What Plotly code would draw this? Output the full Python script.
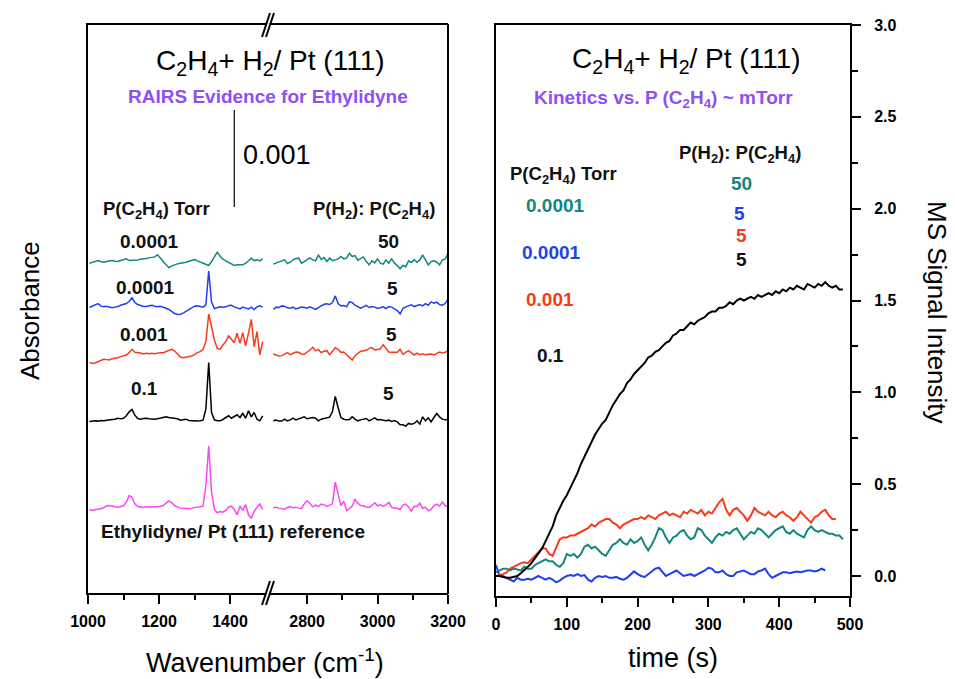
import plotly.graph_objects as go

# ---------------- DATA ----------------
# Left panel: RAIRS spectra (absorbance in units of 1e-3, relative to each trace baseline)
wn_left = list(range(1004, 1493, 8))     # 62 points, 1004..1492 cm-1
wn_right = list(range(2704, 3201, 8))    # 63 points, 2704..3200 cm-1

teal_left = [0.000, 0.007, 0.014, 0.027, 0.017, 0.010, 0.017, 0.020, 0.027, 0.020,
             0.017, 0.027, 0.034, 0.045, 0.027, 0.027, 0.031, 0.034, 0.041, 0.041,
             0.048, 0.055, 0.062, 0.065, 0.086, 0.045, 0.017, -0.017, -0.048, -0.027,
             -0.014, -0.007, 0.000, 0.003, 0.010, 0.020, 0.027, 0.038, 0.024, 0.010,
             0.000, -0.010, -0.024, 0.017, 0.069, 0.113, 0.072, 0.041, 0.024, 0.007,
             -0.010, -0.024, -0.017, -0.017, -0.017, 0.000, 0.024, 0.052, 0.027, 0.034,
             0.024, 0.045]
blue_left = [-0.007, 0.007, 0.017, 0.034, 0.007, 0.000, 0.007, -0.003, -0.010, -0.003,
             0.003, 0.017, 0.024, 0.034, 0.058, 0.093, 0.045, 0.024, 0.014, 0.003,
             0.003, 0.014, 0.017, 0.007, 0.000, 0.007, 0.000, -0.014, -0.027, -0.052,
             -0.069, -0.079, -0.076, -0.065, -0.045, -0.031, -0.010, 0.007, 0.010, 0.003,
             -0.003, 0.020, 0.368, 0.050, -0.017, -0.010, 0.000, -0.003, 0.000, 0.014,
             0.017, 0.000, -0.010, -0.021, -0.003, -0.010, -0.021, -0.003, -0.027, 0.000,
             0.010, -0.003]
red_left = [-0.065, -0.072, -0.069, -0.058, -0.045, -0.031, -0.034, -0.038, -0.024, -0.021,
            -0.014, -0.003, 0.003, 0.014, 0.038, 0.072, 0.041, 0.038, 0.034, 0.024,
            0.031, 0.027, 0.031, 0.027, 0.034, 0.038, 0.038, 0.052, 0.062, 0.072,
            0.055, 0.021, -0.007, -0.014, -0.010, -0.003, 0.003, 0.017, 0.038, 0.048,
            0.072, 0.151, 0.436, 0.306, 0.168, 0.082, 0.072, 0.117, 0.151, 0.210,
            0.175, 0.141, 0.237, 0.134, 0.244, 0.107, 0.237, 0.381, 0.100, 0.254,
            0.014, 0.151]
black_left = [-0.007, -0.003, 0.000, -0.003, 0.003, 0.000, 0.007, 0.010, 0.014, 0.017,
              0.027, 0.021, 0.027, 0.052, 0.093, 0.117, 0.058, 0.024, 0.017, 0.024,
              0.027, 0.021, 0.017, 0.017, 0.021, 0.027, 0.034, 0.041, 0.034, 0.031,
              0.027, 0.021, 0.007, 0.014, 0.017, 0.003, 0.000, 0.003, -0.003, 0.000,
              0.007, 0.120, 0.600, 0.086, 0.010, 0.000, 0.000, 0.014, 0.034, 0.052,
              0.027, 0.041, 0.062, 0.034, 0.076, 0.027, 0.103, 0.041, 0.086, 0.017,
              0.000, 0.052]
magenta_left = [-0.024, -0.034, -0.027, -0.024, -0.017, -0.007, 0.014, 0.017, 0.010, 0.000,
                0.000, 0.007, 0.014, 0.052, 0.120, 0.103, 0.034, 0.007, 0.003, -0.003,
                0.003, 0.003, 0.000, 0.003, 0.003, 0.010, 0.017, 0.041, 0.065, 0.045,
                0.017, 0.003, -0.010, -0.014, -0.017, -0.014, -0.010, -0.007, -0.003, 0.000,
                0.010, 0.223, 0.629, 0.155, -0.024, -0.058, -0.045, -0.052, -0.034, 0.000,
                0.010, -0.024, -0.079, 0.010, -0.034, 0.027, -0.079, -0.113, -0.045, 0.000,
                0.034, -0.024]

teal_right = [-0.010, 0.000, 0.014, 0.020, 0.034, -0.003, 0.010, 0.034, 0.048, 0.052,
              0.000, 0.017, 0.038, 0.055, 0.034, 0.024, 0.086, 0.038, 0.058, 0.017,
              0.052, 0.027, 0.034, 0.045, 0.069, 0.045, 0.052, 0.103, 0.069, 0.079,
              0.031, 0.052, 0.065, 0.017, -0.017, 0.024, 0.003, 0.045, 0.000, -0.010,
              0.034, 0.000, 0.045, 0.000, -0.024, -0.058, -0.024, -0.038, 0.024, 0.007,
              0.038, 0.010, 0.034, 0.086, 0.034, -0.017, 0.017, 0.024, 0.010, -0.017,
              0.034, 0.041, 0.103]
blue_right = [-0.027, -0.003, -0.007, 0.010, 0.007, -0.010, -0.014, -0.003, -0.021, -0.014,
              -0.003, -0.007, -0.014, 0.000, -0.010, -0.027, -0.007, 0.010, 0.027, 0.031,
              0.024, 0.045, 0.113, 0.034, 0.010, 0.014, 0.000, 0.052, 0.045, 0.017,
              -0.003, -0.014, 0.000, 0.014, -0.007, 0.003, -0.003, -0.017, -0.010, 0.000,
              -0.017, 0.003, -0.003, -0.017, -0.038, -0.072, -0.017, 0.000, 0.014, 0.021,
              0.003, 0.017, 0.024, 0.010, 0.034, 0.017, 0.052, 0.038, 0.048, 0.024,
              0.017, 0.034, 0.079]
red_right = [0.024, 0.017, 0.003, 0.007, 0.027, 0.038, 0.017, 0.031, 0.045, 0.041,
             0.024, 0.021, 0.041, 0.065, 0.093, 0.058, 0.069, 0.038, 0.052, 0.058,
             0.017, 0.052, 0.089, 0.072, 0.041, 0.045, 0.017, -0.014, -0.038, 0.007,
             0.027, 0.052, 0.058, 0.062, 0.082, 0.089, 0.065, 0.069, 0.076, 0.120,
             0.076, 0.045, 0.041, 0.038, 0.041, 0.072, 0.021, 0.041, 0.058, 0.038,
             0.014, 0.034, 0.017, 0.027, 0.017, 0.021, 0.024, 0.014, 0.027, 0.045,
             0.034, 0.041, 0.058]
black_right = [0.000, 0.007, -0.003, -0.003, 0.017, 0.000, 0.010, 0.027, 0.010, 0.021,
               0.027, 0.041, 0.021, 0.024, 0.034, 0.027, 0.000, 0.017, 0.024, 0.038,
               0.038, 0.096, 0.251, 0.137, 0.034, 0.017, 0.010, 0.014, 0.041, 0.017,
               0.000, 0.010, 0.021, 0.024, 0.000, 0.017, 0.031, 0.010, 0.014, 0.007,
               0.000, 0.007, -0.007, 0.003, -0.010, -0.041, -0.041, -0.055, -0.027, -0.034,
               -0.027, 0.000, -0.034, 0.041, 0.000, 0.031, -0.010, 0.034, 0.076, 0.041,
               0.017, 0.010, 0.014]
magenta_right = [-0.007, 0.000, -0.010, -0.017, -0.021, -0.003, 0.007, -0.007, 0.000, -0.010,
                 -0.014, 0.034, 0.065, 0.041, 0.003, 0.021, 0.007, 0.031, 0.024, 0.007,
                 0.017, 0.034, 0.258, 0.120, 0.017, 0.062, -0.034, -0.014, 0.010, 0.079,
                 0.041, 0.017, 0.014, 0.000, -0.003, 0.017, 0.045, 0.014, 0.024, 0.010,
                 0.024, 0.048, 0.000, -0.010, -0.010, -0.024, 0.021, 0.031, 0.003, -0.041,
                 0.010, 0.007, 0.041, -0.014, 0.000, -0.038, -0.024, 0.017, 0.031, 0.010,
                 0.052, 0.014, 0.010]

spec_names = ["teal", "blue", "red", "black", "magenta"]
spec_offsets = [3.40, 2.95, 2.44, 1.775, 0.885]      # stacking offsets (1e-3 abs)
scale_bar = [3.98, 4.98]                              # 0.001 absorbance bar

# Right panel: MS kinetics
t_black = list(range(0, 491, 5))
ms_black = [0.00, 0.00, -0.005, -0.01, -0.01, -0.005, 0.00, 0.015, 0.03, 0.05,
            0.07, 0.095, 0.12, 0.15, 0.19, 0.23, 0.27, 0.33, 0.37, 0.41,
            0.44, 0.48, 0.52, 0.56, 0.61, 0.65, 0.69, 0.73, 0.77, 0.80,
            0.83, 0.85, 0.89, 0.93, 0.96, 0.99, 1.01, 1.05, 1.07, 1.10,
            1.12, 1.14, 1.16, 1.19, 1.20, 1.22, 1.23, 1.25, 1.27, 1.28,
            1.31, 1.32, 1.34, 1.34, 1.36, 1.38, 1.37, 1.39, 1.40, 1.41,
            1.43, 1.44, 1.44, 1.46, 1.46, 1.47, 1.49, 1.48, 1.50, 1.51,
            1.50, 1.51, 1.52, 1.51, 1.53, 1.52, 1.53, 1.54, 1.53, 1.55,
            1.54, 1.56, 1.55, 1.57, 1.56, 1.58, 1.57, 1.56, 1.59, 1.58,
            1.57, 1.59, 1.58, 1.60, 1.58, 1.57, 1.58, 1.56, 1.56]
t_red = list(range(0, 481, 5))
ms_red = [0.00, 0.005, 0.01, 0.02, 0.04, 0.05, 0.06, 0.07, 0.075, 0.07,
          0.09, 0.11, 0.13, 0.15, 0.15, 0.12, 0.11, 0.16, 0.20, 0.21,
          0.21, 0.22, 0.22, 0.23, 0.24, 0.25, 0.26, 0.28, 0.27, 0.29,
          0.30, 0.31, 0.31, 0.29, 0.28, 0.26, 0.28, 0.29, 0.30, 0.31,
          0.31, 0.32, 0.31, 0.33, 0.32, 0.31, 0.33, 0.34, 0.35, 0.33,
          0.34, 0.33, 0.32, 0.35, 0.34, 0.36, 0.35, 0.34, 0.36, 0.33,
          0.35, 0.34, 0.37, 0.40, 0.42, 0.36, 0.33, 0.36, 0.37, 0.35,
          0.33, 0.30, 0.33, 0.37, 0.35, 0.34, 0.33, 0.35, 0.33, 0.32,
          0.34, 0.35, 0.33, 0.32, 0.30, 0.32, 0.35, 0.33, 0.31, 0.29,
          0.32, 0.33, 0.35, 0.36, 0.33, 0.31, 0.31]
t_teal = list(range(0, 491, 5))
ms_teal = [0.02, 0.03, 0.04, 0.04, 0.03, 0.04, 0.035, 0.03, 0.05, 0.04,
           0.04, 0.06, 0.07, 0.08, 0.09, 0.08, 0.08, 0.06, 0.05, 0.07,
           0.12, 0.11, 0.12, 0.10, 0.12, 0.16, 0.17, 0.15, 0.16, 0.14,
           0.12, 0.11, 0.14, 0.17, 0.18, 0.20, 0.18, 0.17, 0.20, 0.18,
           0.19, 0.21, 0.17, 0.14, 0.17, 0.21, 0.26, 0.25, 0.21, 0.18,
           0.21, 0.22, 0.24, 0.25, 0.22, 0.20, 0.21, 0.26, 0.25, 0.22,
           0.20, 0.18, 0.21, 0.23, 0.22, 0.24, 0.23, 0.25, 0.26, 0.23,
           0.20, 0.22, 0.24, 0.23, 0.26, 0.25, 0.23, 0.21, 0.23, 0.25,
           0.26, 0.27, 0.24, 0.23, 0.25, 0.23, 0.22, 0.21, 0.25, 0.27,
           0.25, 0.24, 0.25, 0.24, 0.23, 0.23, 0.22, 0.22, 0.20]
t_blue = list(range(0, 466, 5))
ms_blue = [0.06, 0.00, 0.00, -0.01, -0.02, -0.03, -0.01, -0.02, -0.02, -0.015,
           -0.02, -0.01, 0.00, -0.01, -0.02, -0.01, -0.02, -0.035, -0.025, -0.01,
           0.00, 0.005, 0.00, 0.01, 0.00, 0.005, -0.02, -0.03, -0.01, 0.00,
           -0.005, 0.00, -0.01, -0.01, -0.005, -0.015, -0.02, -0.01, 0.01, 0.025,
           0.01, 0.00, -0.005, 0.01, 0.02, 0.04, 0.045, 0.02, 0.00, 0.01,
           0.02, 0.03, 0.015, 0.00, 0.005, 0.01, 0.00, 0.01, 0.02, 0.03,
           0.045, 0.04, 0.02, 0.02, 0.03, 0.01, 0.00, 0.00, 0.02, 0.025,
           0.03, 0.02, 0.01, 0.01, 0.025, 0.03, 0.04, 0.01, -0.01, 0.00,
           0.01, 0.02, 0.02, 0.015, 0.02, 0.025, 0.02, 0.025, 0.03, 0.03,
           0.025, 0.03, 0.04, 0.03]

left_x_ticks_a = [1000, 1200, 1400]
left_x_ticks_b = [2800, 3000, 3200]
right_x_ticks = [0, 100, 200, 300, 400, 500]
right_y_ticks = [0.0, 0.5, 1.0, 1.5, 2.0, 2.5, 3.0]

# ---------------- STYLE ----------------
W, H = 955, 679
FONT = "Liberation Sans, Arial, sans-serif"
COL = {"teal": "#11877f", "blue": "#1f3ff5", "red": "#f73b1a",
       "black": "#000000", "magenta": "#fb45f7"}
PURPLE = "#8f4ff2"


def fx(px):
    return px / W


def fy(py):
    return 1 - py / H


fig = go.Figure()

left_sets = {"teal": (teal_left, teal_right), "blue": (blue_left, blue_right),
             "red": (red_left, red_right), "black": (black_left, black_right),
             "magenta": (magenta_left, magenta_right)}
for name, off in zip(spec_names, spec_offsets):
    yl, yr = left_sets[name]
    fig.add_trace(go.Scatter(x=wn_left, y=[off + v for v in yl], mode="lines",
                             line=dict(color=COL[name], width=1.5),
                             xaxis="x", yaxis="y", showlegend=False, hoverinfo="skip"))
    fig.add_trace(go.Scatter(x=wn_right, y=[off + v for v in yr], mode="lines",
                             line=dict(color=COL[name], width=1.5),
                             xaxis="x2", yaxis="y", showlegend=False, hoverinfo="skip"))

fig.add_trace(go.Scatter(x=[1412, 1412], y=scale_bar, mode="lines",
                         line=dict(color="black", width=1.2),
                         xaxis="x", yaxis="y", showlegend=False, hoverinfo="skip"))

for t, v, c in [(t_teal, ms_teal, "teal"), (t_blue, ms_blue, "blue"),
                (t_red, ms_red, "red"), (t_black, ms_black, "black")]:
    fig.add_trace(go.Scatter(x=t, y=v, mode="lines", line=dict(color=COL[c], width=2),
                             xaxis="x3", yaxis="y2", showlegend=False, hoverinfo="skip"))

tickfont = dict(family=FONT, size=16, color="black", weight="bold")
common_x = dict(showline=True, linewidth=2, linecolor="black", mirror=True,
                ticks="outside", ticklen=9, tickwidth=2, tickcolor="black",
                showgrid=False, zeroline=False, tickfont=tickfont, ticklabelstandoff=4,
                automargin=False)

fig.update_layout(
    template="none",
    width=W, height=H, margin=dict(l=0, r=0, t=0, b=0, pad=0), autosize=False,
    paper_bgcolor="white", plot_bgcolor="white", showlegend=False,
    xaxis=dict(domain=[fx(88), fx(268)], range=[1000, 1507], anchor="y",
               tickvals=left_x_ticks_a,
               minor=dict(tickvals=[1100, 1300], ticks="outside", ticklen=5,
                          tickwidth=2, tickcolor="black"), **common_x),
    xaxis2=dict(domain=[fx(268), fx(448)], range=[2689, 3200], anchor="y",
                tickvals=left_x_ticks_b,
                minor=dict(tickvals=[2900, 3100], ticks="outside", ticklen=5,
                           tickwidth=2, tickcolor="black"), **common_x),
    yaxis=dict(domain=[fy(593), fy(25)], range=[0, 568 / 97], anchor="x",
               showline=True, linewidth=2, linecolor="black", ticks="",
               showticklabels=False, showgrid=False, zeroline=False, automargin=False),
    xaxis3=dict(domain=[fx(496), fx(850)], range=[0, 500], anchor="y2",
                tickvals=right_x_ticks,
                minor=dict(tickvals=[50, 150, 250, 350, 450], ticks="outside", ticklen=5,
                           tickwidth=2, tickcolor="black"), **common_x),
    yaxis2=dict(domain=[fy(596), fy(25)], range=[-20 / 183.67, 3.0], anchor="x3",
                side="right", tickvals=right_y_ticks, tickformat=".1f",
                showline=True, linewidth=2, linecolor="black", mirror=True,
                ticks="outside", ticklen=9, tickwidth=2, tickcolor="black",
                minor=dict(tickvals=[0.25, 0.75, 1.25, 1.75, 2.25, 2.75], ticks="outside",
                           ticklen=6, tickwidth=2, tickcolor="black"),
                showgrid=False, zeroline=False, tickfont=tickfont, ticklabelstandoff=10,
                automargin=False),
)

shapes = []
# right border of the broken-axis panel
shapes.append(dict(type="line", xref="paper", yref="paper", x0=fx(448), x1=fx(448),
                   y0=fy(594), y1=fy(24), line=dict(color="black", width=2)))
# axis break marks (top and bottom)
for yc in (25, 593):
    shapes.append(dict(type="rect", xref="paper", yref="paper", x0=fx(266.5), x1=fx(269.5),
                       y0=fy(yc + 2.5), y1=fy(yc - 2.5), fillcolor="white",
                       line=dict(width=0), layer="above"))
    for xc in (266, 270):
        shapes.append(dict(type="line", xref="paper", yref="paper",
                           x0=fx(xc - 4), y0=fy(yc + 12), x1=fx(xc + 4), y1=fy(yc - 12),
                           line=dict(color="black", width=2), layer="above"))
fig.update_layout(shapes=shapes)

anns = []


def ann(text, px, py, size, color="black", bold=False, xanchor="center", angle=0):
    if bold:
        text = "<b>" + text + "</b>"
    anns.append(dict(text=text, x=fx(px), y=fy(py), xref="paper", yref="paper",
                     xanchor=xanchor, yanchor="middle", showarrow=False, textangle=angle,
                     font=dict(family=FONT, size=size, color=color)))


TITLE = "C<sub>2</sub>H<sub>4</sub>+ H<sub>2</sub>/ Pt (111)"
PC2H4 = "P(C<sub>2</sub>H<sub>4</sub>)"
RATIO = "P(H<sub>2</sub>): " + PC2H4

# left panel texts
ann(TITLE, 270, 62, 28)
ann("RAIRS Evidence for Ethylidyne", 268, 97, 19, PURPLE, True)
ann("0.001", 241, 155, 27, xanchor="left")
ann(PC2H4 + " Torr", 156, 210, 18.5, "#111", True)
ann(RATIO, 374, 210, 18.5, "#111", True)
ann("0.0001", 149, 241, 19, "#111", True)
ann("50", 388.5, 241, 19, "#111", True)
ann("0.0001", 145, 287, 19, "#111", True)
ann("5", 392.5, 288, 19, "#111", True)
ann("0.001", 143.5, 334, 19, "#111", True)
ann("5", 391, 334, 19, "#111", True)
ann("0.1", 144, 388, 19, "#111", True)
ann("5", 388, 393, 19, "#111", True)
ann("Ethylidyne/ Pt (111) reference", 233, 531, 19, "#111", True)
ann("Absorbance", 30, 311, 26, angle=-90)
ann("Wavenumber (cm<sup>-1</sup>)", 265, 661, 27)

# right panel texts
ann(TITLE, 686, 60, 28)
ann("Kinetics vs. P (C<sub>2</sub>H<sub>4</sub>) ~ mTorr", 663, 99, 19, PURPLE, True)
ann(RATIO, 740, 154, 18.5, "#111", True)
ann(PC2H4 + " Torr", 563, 175, 18.5, "#111", True)
ann("50", 741, 184, 19, COL["teal"], True)
ann("0.0001", 555.5, 205, 19, COL["teal"], True)
ann("5", 739, 213, 19, COL["blue"], True)
ann("5", 741, 235, 19, COL["red"], True)
ann("0.0001", 551, 252, 19, COL["blue"], True)
ann("5", 741, 259, 19, "#111", True)
ann("0.001", 549.5, 299, 19, COL["red"], True)
ann("0.1", 550.5, 355, 19, "#111", True)
ann("time (s)", 673, 658, 27)
ann("MS Signal Intensity", 937, 312, 26, angle=90)

fig.update_layout(annotations=anns)
fig.write_html("out.html")
